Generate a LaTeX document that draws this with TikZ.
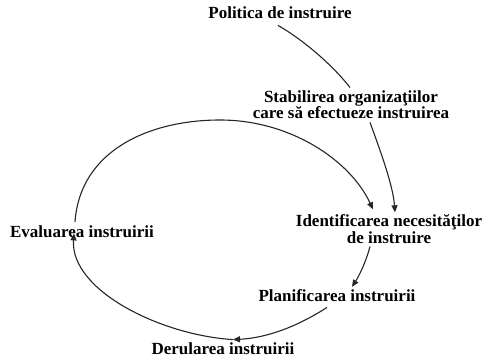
\documentclass[tikz,border=0pt]{standalone}
\usepackage{fontspec}
\setmainfont{Liberation Serif}
\usetikzlibrary{arrows.meta}
\newcommand\lblfont{\bfseries\fontsize{17}{16.5}\selectfont\setlength{\lineskiplimit}{-20pt}\setlength{\lineskip}{0pt}}
\tikzset{
  lbl/.style={inner sep=0pt, anchor=base, align=center, font=\lblfont, text=black},
  conn/.style={line width=1.1pt, draw=black!85},
  arr/.style={conn, -{Triangle[length=7pt,width=6pt]}}
}
\begin{document}
\begin{tikzpicture}[x=1pt,y=-1pt]
\useasboundingbox (0,0) rectangle (489,358);
\node[lbl] (pol) at (280,19) {Politica de instruire};
\node[lbl] (stab) at (351,119) {Stabilirea organizaţiilor\\care să efectueze instruirea};
\node[lbl] (ident) at (389,243) {Identificarea necesităţilor\\de instruire};
\node[lbl] (plan) at (337,301) {Planificarea instruirii};
\node[lbl] (der) at (223,354) {Derularea instruirii};
\node[lbl] (eval) at (82,237) {Evaluarea instruirii};

\draw[conn] ([xshift=-2pt,yshift=-6pt]pol.south) .. controls (300,38) and (330,62) .. ([xshift=-1pt,yshift=3pt]stab.north);
\draw[arr] ([xshift=19pt,yshift=-3pt]stab.south) .. controls (380,150) and (393,185) .. ([xshift=6pt,yshift=2pt]ident.north);
\draw[arr] ([xshift=-7pt,yshift=3pt]eval.north) .. controls (80,150) and (150,120) .. (220,120)
  .. controls (290,120) and (350,160) .. ([xshift=-16pt,yshift=5pt]ident.north);
\draw[arr] ([xshift=-19pt,yshift=-3pt]ident.south) .. controls (366,262) and (359,276) .. ([xshift=15pt,yshift=2pt]plan.north);
\draw[arr] ([xshift=-10pt,yshift=-6pt]plan.south) .. controls (295,328) and (265,338) .. ([xshift=10pt,yshift=2.4pt]der.north);
\draw[arr] ([xshift=10pt,yshift=2.4pt]der.north) .. controls (160,335) and (70,290) .. ([xshift=-8pt,yshift=4pt]eval.south);
\end{tikzpicture}
\end{document}
